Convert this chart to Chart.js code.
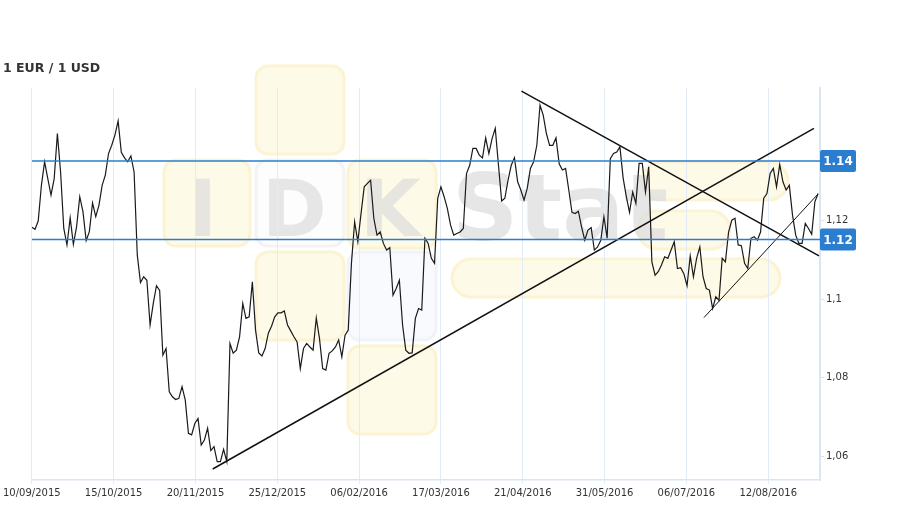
<!DOCTYPE html>
<html>
<head>
<meta charset="utf-8">
<title>1 EUR / 1 USD</title>
<script src="https://cdn.jsdelivr.net/npm/chart.js@4.4.1/dist/chart.umd.min.js"></script>
<style>
    html, body { margin: 0; padding: 0; background: #fff; }
    #wrap { position: relative; width: 909px; height: 509px; }
    #wrap canvas { position: absolute; left: 0; top: 0; }
    #title { position: absolute; left: 3px; top: 60px; font: bold 12.5px "DejaVu Sans", sans-serif; color: #333; }
</style>
</head>
<body>
<div id="wrap">
    <canvas id="rateChart" width="909" height="509"></canvas>
    <div id="title">1 EUR / 1 USD</div>
</div>
<script>
// Daily EUR/USD closes, one value per row (10/09/2015 .. end of 08/2016)
const RATES = [
    1.1183, 1.1178, 1.1199, 1.1290, 1.1350, 1.1307, 1.1265, 1.1307, 1.1422, 1.1324,
    1.1180, 1.1138, 1.1207, 1.1140, 1.1184, 1.1261, 1.1223, 1.1149, 1.1172, 1.1245,
    1.1210, 1.1239, 1.1290, 1.1316, 1.1371, 1.1392, 1.1418, 1.1454, 1.1374, 1.1360,
    1.1350, 1.1365, 1.1324, 1.1112, 1.1042, 1.1057, 1.1048, 1.0934, 1.0989, 1.1034,
    1.1022, 1.0857, 1.0874, 1.0764, 1.0751, 1.0744, 1.0747, 1.0777, 1.0743, 1.0658,
    1.0654, 1.0683, 1.0696, 1.0628, 1.0641, 1.0671, 1.0614, 1.0624, 1.0586, 1.0586,
    1.0617, 1.0586, 1.0887, 1.0862, 1.0870, 1.0904, 1.0989, 1.0951, 1.0955, 1.1044,
    1.0921, 1.0863, 1.0855, 1.0874, 1.0913, 1.0931, 1.0955, 1.0965, 1.0965, 1.0970,
    1.0934, 1.0919, 1.0904, 1.0891, 1.0823, 1.0874, 1.0887, 1.0878, 1.0870, 1.0952,
    1.0900, 1.0823, 1.0819, 1.0862, 1.0868, 1.0878, 1.0896, 1.0853, 1.0908, 1.0921,
    1.1091, 1.1197, 1.1146, 1.1218, 1.1286, 1.1295, 1.1303, 1.1206, 1.1163, 1.1171,
    1.1142, 1.1125, 1.1131, 1.1010, 1.1027, 1.1048, 1.0934, 1.0870, 1.0862, 1.0863,
    1.0951, 1.0976, 1.0972, 1.1155, 1.1142, 1.1104, 1.1091, 1.1257, 1.1286, 1.1261,
    1.1231, 1.1189, 1.1163, 1.1167, 1.1171, 1.1180, 1.1320, 1.1341, 1.1384, 1.1384,
    1.1367, 1.1360, 1.1411, 1.1371, 1.1409, 1.1435, 1.1341, 1.1250, 1.1257, 1.1303,
    1.1341, 1.1360, 1.1299, 1.1278, 1.1252, 1.1282, 1.1333, 1.1350, 1.1392, 1.1494,
    1.1469, 1.1422, 1.1392, 1.1392, 1.1411, 1.1345, 1.1329, 1.1333, 1.1278, 1.1221,
    1.1218, 1.1224, 1.1184, 1.1150, 1.1176, 1.1182, 1.1125, 1.1133, 1.1149, 1.1210,
    1.1155, 1.1358, 1.1371, 1.1375, 1.1388, 1.1309, 1.1261, 1.1221, 1.1273, 1.1244,
    1.1346, 1.1346, 1.1273, 1.1337, 1.1095, 1.1061, 1.1070, 1.1087, 1.1108, 1.1104,
    1.1125, 1.1146, 1.1078, 1.1080, 1.1065, 1.1034, 1.1110, 1.1057, 1.1104, 1.1133,
    1.1057, 1.1027, 1.1023, 1.0976, 1.1006, 1.0997, 1.1104, 1.1095, 1.1171, 1.1201,
    1.1206, 1.1138, 1.1136, 1.1091, 1.1078, 1.1155, 1.1159, 1.1150, 1.1171, 1.1257,
    1.1269, 1.1320, 1.1333, 1.1286, 1.1343, 1.1299, 1.1278, 1.1290, 1.1214, 1.1163,
    1.1142, 1.1142, 1.1193, 1.1180, 1.1165, 1.1248, 1.1269
];

const DATE_LABELS = ['10/09/2015', '15/10/2015', '20/11/2015', '25/12/2015', '06/02/2016',
    '17/03/2016', '21/04/2016', '31/05/2016', '06/07/2016', '12/08/2016'];
const ROWS_PER_LABEL = 25.6; // a date label every ~25.6 rows
const X_MAX = 246.6;

const Y_MIN = 1.0539;
const Y_MAX = 1.1538;
const Y_TICKS = [1.06, 1.08, 1.10, 1.12];

// support / resistance levels with their badges
const LEVELS = [1.1352, 1.1152];
const LEVEL_LABELS = ['1.14', '1.12'];

// hand drawn trend lines: [row, rate]
const TREND_LONG_UP = [[56.6, 1.0567], [244.7, 1.1435]];
const TREND_DOWN = [[153.2, 1.1530], [246.3, 1.1110]];
const TREND_SHORT_UP = [[210.3, 1.0953], [246.0, 1.1268]];

const BLUE = '#2b7dcf';
const GRID = '#e2ecf6';

Chart.defaults.font.family = '"DejaVu Sans", Verdana, sans-serif';
Chart.defaults.font.size = 10;
Chart.defaults.color = '#333';

function toPoints(pairs) {
    return pairs.map(p => ({ x: p[0], y: p[1] }));
}

function levelLine(value) {
    return {
        data: [{ x: 0, y: value }, { x: X_MAX, y: value }],
        borderColor: BLUE,
        borderWidth: 1.5,
        pointRadius: 0
    };
}

function trendLine(pairs, width) {
    return {
        data: toPoints(pairs),
        borderColor: '#111',
        borderWidth: width,
        pointRadius: 0
    };
}

// faint IDKStat logo behind the chart
const logoPlugin = {
    id: 'logo',
    beforeDraw(chart) {
        const ctx = chart.ctx;
        ctx.save();
        const tile = (x, y, w, h, r, fill, stroke) => {
            ctx.beginPath();
            ctx.roundRect(x, y, w, h, r);
            ctx.fillStyle = fill;
            ctx.fill();
            ctx.lineWidth = 3;
            ctx.strokeStyle = stroke;
            ctx.stroke();
        };
        const yFill = '#fefae8', yEdge = '#fbf3d2';
        tile(256, 66, 88, 88, 12, yFill, yEdge);
        tile(164, 160, 86, 86, 12, yFill, yEdge);
        tile(256, 160, 88, 86, 12, '#fdfdfd', '#f3f3f3');
        tile(256, 252, 88, 88, 12, yFill, yEdge);
        tile(348, 160, 88, 88, 12, yFill, yEdge);
        tile(348, 252, 88, 88, 12, '#f8fafd', '#f0f3f8');
        tile(348, 346, 88, 88, 12, yFill, yEdge);
        tile(452, 259, 328, 38, 19, yFill, yEdge);
        tile(642, 162, 146, 38, 19, yFill, yEdge);
        tile(638, 211, 92, 38, 19, yFill, yEdge);

        ctx.fillStyle = 'rgba(222,222,222,0.75)';
        ctx.font = 'bold 78px "DejaVu Sans"';
        ctx.textBaseline = 'alphabetic';
        ctx.fillText('I', 188, 236);
        ctx.fillText('D', 262, 236);
        ctx.fillText('K', 360, 236);
        ctx.font = 'bold 92px "DejaVu Sans"';
        ctx.fillText('Stat', 452, 240);
        ctx.restore();
    }
};

// blue value badges on the right axis
const badgePlugin = {
    id: 'badges',
    afterDatasetsDraw(chart) {
        const ctx = chart.ctx;
        const yScale = chart.scales.y;
        const left = chart.chartArea.right;
        ctx.save();
        LEVELS.forEach((level, i) => {
            const y = yScale.getPixelForValue(level);
            ctx.beginPath();
            ctx.roundRect(left, y - 11, 36, 22, 2);
            ctx.fillStyle = BLUE;
            ctx.fill();
            ctx.fillStyle = '#fff';
            ctx.font = 'bold 12px "DejaVu Sans"';
            ctx.textAlign = 'center';
            ctx.textBaseline = 'middle';
            ctx.fillText(LEVEL_LABELS[i], left + 18, y + 1);
        });
        ctx.restore();
    }
};

const ctx = document.getElementById('rateChart').getContext('2d');
window.rateChart = new Chart(ctx, {
    type: 'line',
    data: {
        datasets: [
            levelLine(LEVELS[0]),
            levelLine(LEVELS[1]),
            trendLine(TREND_LONG_UP, 1.5),
            trendLine(TREND_DOWN, 1.5),
            trendLine(TREND_SHORT_UP, 1),
            {
                data: RATES.map((v, i) => ({ x: i, y: v })),
                borderColor: '#1a1a1a',
                borderWidth: 1.2,
                pointRadius: 0,
                tension: 0
            }
        ]
    },
    options: {
        responsive: false,
        animation: false,
        layout: { padding: { left: 31, top: 88, right: 0, bottom: 0 } },
        plugins: {
            legend: { display: false },
            tooltip: { enabled: false }
        },
        scales: {
            x: {
                type: 'linear',
                min: 0,
                max: X_MAX,
                afterBuildTicks: (s) => {
                    s.ticks = DATE_LABELS.map((_, i) => ({ value: i * ROWS_PER_LABEL }));
                },
                afterFit: (s) => { s.height = 29; },
                ticks: {
                    autoSkip: false,
                    maxRotation: 0,
                    padding: 3,
                    callback: (v, i) => DATE_LABELS[i]
                },
                grid: { color: GRID, lineWidth: 1, tickLength: 4 },
                border: { color: '#dbe6f2', width: 1.5 }
            },
            y: {
                position: 'right',
                min: Y_MIN,
                max: Y_MAX,
                afterBuildTicks: (s) => {
                    s.ticks = Y_TICKS.map(v => ({ value: v }));
                },
                afterFit: (s) => { s.width = 89; },
                ticks: {
                    padding: 2,
                    callback: (v) => String(+v.toFixed(2)).replace('.', ',')
                },
                grid: { drawOnChartArea: false, color: '#d5e2f0', tickLength: 4 },
                border: { color: '#dbe6f2', width: 2 }
            }
        }
    },
    plugins: [logoPlugin, badgePlugin]
});
</script>
</body>
</html>
